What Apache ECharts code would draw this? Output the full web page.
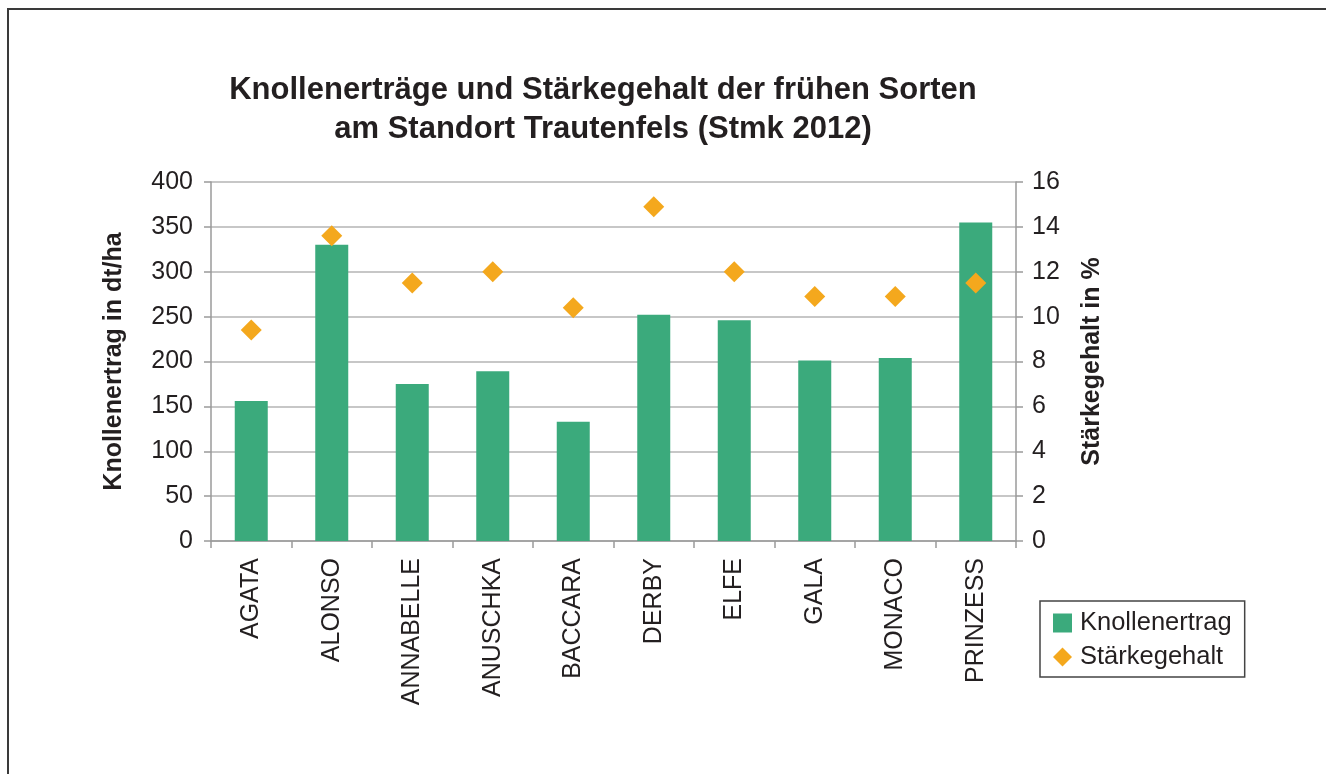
<!DOCTYPE html>
<html>
<head>
<meta charset="utf-8">
<script src="https://cdn.jsdelivr.net/npm/echarts@6/dist/echarts.min.js"></script>
<style>
  html, body { margin: 0; padding: 0; background: #fff; }
  #chart { width: 1326px; height: 774px; }
</style>
</head>
<body>
<div id="chart"></div>
<script>
// Daten
const sorten = ['AGATA', 'ALONSO', 'ANNABELLE', 'ANUSCHKA', 'BACCARA', 'DERBY', 'ELFE', 'GALA', 'MONACO', 'PRINZESS'];
const knollenertrag = [156, 330, 175, 189, 133, 252, 246, 201, 204, 355];
const staerkegehalt = [9.4, 13.6, 11.5, 12.0, 10.4, 14.9, 12.0, 10.9, 10.9, 11.5];
const ertragTicks = [0, 50, 100, 150, 200, 250, 300, 350, 400];
const staerkeTicks = [0, 2, 4, 6, 8, 10, 12, 14, 16];

const FONT = 'Liberation Sans, Arial, sans-serif';
const TXT = '#231f20';
const GRUEN = '#3baa7c';
const ORANGE = '#f4a81d';

const chart = echarts.init(document.getElementById('chart'));

chart.setOption({
    animation: false,
    textStyle: { fontFamily: FONT, color: TXT },
    graphic: [{
        type: 'rect',
        shape: { x: 8, y: 9, width: 1400, height: 900 },
        style: { fill: 'none', stroke: '#3a3a3a', lineWidth: 2 },
        silent: true
    }],
    title: {
        text: 'Knollenerträge und Stärkegehalt der frühen Sorten\nam Standort Trautenfels (Stmk 2012)',
        left: 598,
        top: 66,
        textAlign: 'center',
        textStyle: { fontFamily: FONT, fontSize: 31, fontWeight: 'bold', color: TXT, lineHeight: 39 }
    },
    legend: {
        orient: 'vertical',
        left: 1040,
        top: 601,
        padding: [9, 13, 7, 13],
        itemGap: 8,
        itemWidth: 19,
        itemHeight: 19,
        borderColor: '#444',
        borderWidth: 1.5,
        textStyle: { fontFamily: FONT, fontSize: 25.5, color: TXT, lineHeight: 26, padding: [0, 0, 0, 3] },
        data: [
            { name: 'Knollenertrag', icon: 'rect' },
            { name: 'Stärkegehalt', icon: 'diamond' }
        ]
    },
    grid: { left: 211, right: 310, top: 182, bottom: 233 },
    xAxis: {
        type: 'category',
        data: sorten,
        axisLine: { lineStyle: { color: '#9a9a9a', width: 1.5 } },
        axisTick: { show: true, length: 7, alignWithLabel: false, lineStyle: { color: '#9a9a9a', width: 1.5 } },
        axisLabel: { rotate: 90, interval: 0, margin: 17, fontSize: 25, color: TXT, fontFamily: FONT }
    },
    yAxis: [
        {
            type: 'value',
            min: ertragTicks[0],
            max: ertragTicks[ertragTicks.length - 1],
            interval: 50,
            name: 'Knollenertrag in dt/ha',
            nameLocation: 'middle',
            nameGap: 84,
            nameTextStyle: { fontFamily: FONT, fontSize: 25, fontWeight: 'bold', color: TXT },
            axisLine: { show: true, lineStyle: { color: '#9a9a9a', width: 1.5 } },
            axisTick: { show: true, length: 7, lineStyle: { color: '#9a9a9a', width: 1.5 } },
            axisLabel: { margin: 18, fontSize: 25, color: TXT, fontFamily: FONT },
            splitLine: { show: true, lineStyle: { color: '#b4b4b4', width: 1.5 } }
        },
        {
            type: 'value',
            position: 'right',
            min: staerkeTicks[0],
            max: staerkeTicks[staerkeTicks.length - 1],
            interval: 2,
            name: 'Stärkegehalt in %',
            nameLocation: 'middle',
            nameRotate: 90,
            nameGap: 64,
            nameTextStyle: { fontFamily: FONT, fontSize: 25, fontWeight: 'bold', color: TXT },
            axisLine: { show: true, lineStyle: { color: '#9a9a9a', width: 1.5 } },
            axisTick: { show: true, length: 7, lineStyle: { color: '#9a9a9a', width: 1.5 } },
            axisLabel: { margin: 16, fontSize: 25, color: TXT, fontFamily: FONT },
            splitLine: { show: false }
        }
    ],
    series: [
        {
            name: 'Knollenertrag',
            type: 'bar',
            yAxisIndex: 0,
            barWidth: 33,
            itemStyle: { color: GRUEN },
            data: knollenertrag
        },
        {
            name: 'Stärkegehalt',
            type: 'scatter',
            yAxisIndex: 1,
            z: 5,
            symbol: 'diamond',
            symbolSize: 21,
            itemStyle: { color: ORANGE, opacity: 1 },
            data: staerkegehalt
        }
    ]
});
</script>
</body>
</html>
